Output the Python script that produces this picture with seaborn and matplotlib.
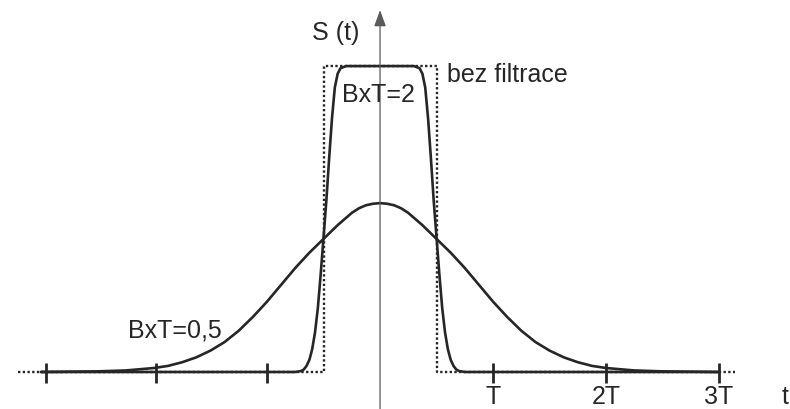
import numpy as np
import pandas as pd
import matplotlib
matplotlib.use("Agg")
import matplotlib.pyplot as plt
import seaborn as sns

# Time axis in units of the bit period T; amplitude normalised to the unfiltered pulse.
bt05_t = [-3.0, -2.75, -2.5, -2.25, -2.0, -1.875, -1.75, -1.625, -1.5, -1.375, -1.25,
          -1.125, -1.0, -0.875, -0.75, -0.625, -0.5, -0.375, -0.25, -0.1875, -0.125,
          -0.0625, 0.0, 0.0625, 0.125, 0.1875, 0.25, 0.375, 0.5, 0.625, 0.75, 0.875,
          1.0, 1.125, 1.25, 1.375, 1.5, 1.625, 1.75, 1.875, 2.0, 2.25, 2.5, 2.75, 3.0]
bt05_s = [0.0, 0.001, 0.002, 0.005, 0.013, 0.02, 0.032, 0.048, 0.07, 0.098, 0.135,
          0.18, 0.23, 0.285, 0.34, 0.39, 0.435, 0.48, 0.52, 0.535, 0.545,
          0.55, 0.552, 0.55, 0.545, 0.535, 0.52, 0.48, 0.435, 0.39, 0.34, 0.285,
          0.23, 0.18, 0.135, 0.098, 0.07, 0.048, 0.032, 0.02, 0.013, 0.005, 0.002, 0.001, 0.0]

bt2_t = [-3.0, -0.75, -0.7, -0.675, -0.65, -0.625, -0.6, -0.575, -0.55, -0.525, -0.5,
         -0.475, -0.45, -0.425, -0.4, -0.375, -0.35, -0.3, 0.0,
         0.3, 0.35, 0.375, 0.4, 0.425, 0.45, 0.475, 0.5, 0.525, 0.55, 0.575, 0.6,
         0.625, 0.65, 0.675, 0.7, 0.75, 3.0]
bt2_s = [0.0, 0.0, 0.003, 0.008, 0.02, 0.04, 0.075, 0.13, 0.21, 0.32, 0.44,
         0.56, 0.7, 0.83, 0.93, 0.975, 0.993, 1.0, 1.0,
         1.0, 0.993, 0.975, 0.93, 0.83, 0.7, 0.56, 0.44, 0.32, 0.21, 0.13, 0.075,
         0.04, 0.02, 0.008, 0.003, 0.0, 0.0]

# Unfiltered rectangular pulse of width T
rect_t = [-3.2, -0.5, -0.5, 0.5, 0.5, 3.14]
rect_s = [0.0, 0.0, 1.0, 1.0, 0.0, 0.0]

tick_pos = [-2.96, -1.98, -1.0, 1.0, 2.0, 3.0]
tick_labels = ["", "", "", "T", "2T", "3T"]

sns.set_style("white")
plt.rcParams["font.family"] = ["Liberation Sans", "DejaVu Sans"]

ink = "#262626"
axis_col = "#5a5a5a"
fs = 18

fig = plt.figure(figsize=(7.9, 4.09), dpi=100)
ax = fig.add_axes([0, 0, 1, 1])
ax.set_xlim(-3.363, 3.628)
ax.set_ylim(-0.121, 1.216)
ax.axis("off")

# Coordinate axes with arrow heads
arrow = "-|>,head_length=0.55,head_width=0.2"
ax.annotate("", xy=(3.67, 0), xytext=(-3.29, 0),
            arrowprops=dict(arrowstyle=arrow, mutation_scale=18, lw=0.9,
                            color=axis_col, shrinkA=0, shrinkB=0))
ax.annotate("", xy=(0, 1.183), xytext=(0, -0.125),
            arrowprops=dict(arrowstyle=arrow, mutation_scale=18, lw=0.9,
                            color=axis_col, shrinkA=0, shrinkB=0))

# Unfiltered pulse, dotted
sns.lineplot(x=rect_t, y=rect_s, ax=ax, color=ink, lw=1.7, linestyle=(0, (1, 1)),
             sort=False, estimator=None)

# Gaussian-filtered pulses
df05 = pd.DataFrame({"t": bt05_t, "s": bt05_s})
df2 = pd.DataFrame({"t": bt2_t, "s": bt2_s})
for df in (df05, df2):
    sns.lineplot(data=df, x="t", y="s", ax=ax, color=ink, lw=1.9, sort=False,
                 estimator=None, solid_joinstyle="round", solid_capstyle="round")

# Tick marks on the time axis
ax.vlines(tick_pos, -0.036, 0.029, color=ink, lw=2.0)
for x, lab in zip(tick_pos, tick_labels):
    if lab:
        ax.text(x, -0.104, lab, ha="center", va="baseline", fontsize=fs, color=ink)

ax.text(3.618, -0.104, "t", ha="right", va="baseline", fontsize=fs, color=ink)
ax.text(-0.602, 1.085, "S (t)", ha="left", va="baseline", fontsize=fs, color=ink)
ax.text(0.593, 0.948, "bez filtrace", ha="left", va="baseline", fontsize=fs, color=ink)
ax.text(-0.336, 0.882, "BxT=2", ha="left", va="baseline", fontsize=fs, color=ink)
ax.text(-2.23, 0.114, "BxT=0,5", ha="left", va="baseline", fontsize=fs, color=ink)

fig.savefig("out.png", dpi=100)
